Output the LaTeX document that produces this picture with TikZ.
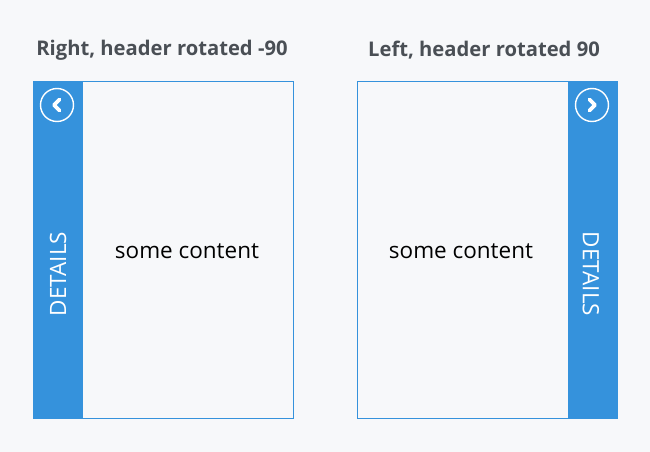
\documentclass[tikz,border=0pt]{standalone}
\usepackage{fontspec}
\setmainfont{Open Sans}
\definecolor{bgGray}{HTML}{F7F8FA}
\definecolor{barBlue}{HTML}{3592DC}
\definecolor{titleGray}{HTML}{4A4F55}
\begin{document}
\begin{tikzpicture}[x=0.02cm,y=-0.02cm,
    panel/.style={rectangle, draw=barBlue, semithick, fill=bgGray, minimum width=5.2cm, minimum height=6.74cm, anchor=north west},
    bar/.style={rectangle, draw=barBlue, semithick, fill=barBlue, minimum width=0.98cm, minimum height=6.74cm, anchor=north west},
    title/.style={font=\bfseries\fontsize{11.5}{14}\selectfont, text=titleGray},
    tab/.style={font=\fontsize{12.8}{15}\selectfont, text=white},
    body/.style={font=\fontsize{12.8}{15}\selectfont},
    btn/.style={circle, draw=white, thick, minimum size=0.66cm, inner sep=0pt},
    chev/.style={white, line width=2.2pt, line cap=round, line join=round}
]
\fill[bgGray] (0,0) rectangle (650,452);

% Left panel, header at the left
\node[title] (titleA) at (162,50) {Right, header rotated -90};
\node[panel] (panelA) at (33,81) {};
\node[bar] (barA) at (33,81) {};
\node[btn] (btnA) at (57,105) {};
\draw[chev] (59.5,99.5) -- (54,105) -- (59.5,110.5);
\node[tab, rotate=90] (tabA) at (58,274) {DETAILS};
\node[body] (bodyA) at (187,251) {some content};

% Right panel, header at the right
\node[title] (titleB) at (484,50) {Left, header rotated 90};
\node[panel] (panelB) at (357,81) {};
\node[bar] (barB) at (568,81) {};
\node[btn] (btnB) at (592,105) {};
\draw[chev] (589.5,99.5) -- (595,105) -- (589.5,110.5);
\node[tab, rotate=-90] (tabB) at (591,274) {DETAILS};
\node[body] (bodyB) at (461,251) {some content};
\end{tikzpicture}
\end{document}
